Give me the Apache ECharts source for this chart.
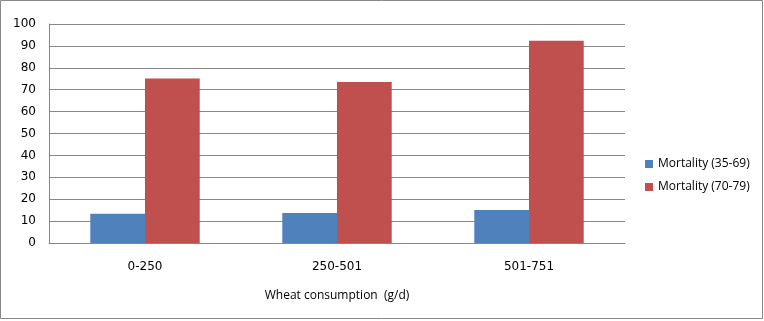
<!DOCTYPE html>
<html><head><meta charset="utf-8">
<script src="https://cdn.jsdelivr.net/npm/echarts@6/dist/echarts.min.js"></script>
<style>html,body{margin:0;padding:0;background:#fff}#c{width:764px;height:321px}</style>
</head><body><div id="c"></div>
<script>
var categories = ['0-250', '250-501', '501-751'];
var mortality3569 = [13.3, 13.7, 15.1];
var mortality7079 = [75.1, 73.5, 92.3];
var seriesNames = ['Mortality (35-69)', 'Mortality (70-79)'];
var xAxisTitle = 'Wheat consumption  (g/d)';

var chart = echarts.init(document.getElementById('c'));
var font = 'DejaVu Sans';
chart.setOption({
  animation: false,
  graphic: [{type:'rect', shape:{x:0.5,y:0.5,width:762,height:318}, style:{fill:'none', stroke:'#888', lineWidth:1}, silent:true}],
  grid: {left: 49, top: 24, right: 139, bottom: 78, containLabel: false},
  legend: {
    orient: 'vertical', left: 640, top: 153, itemWidth: 8, itemHeight: 8, itemGap: 11,
    icon: 'rect',
    textStyle: {fontFamily: 'Open Sans', fontSize: 12, color: '#000'},
    data: seriesNames
  },
  xAxis: {
    type: 'category', data: categories,
    axisLine: {lineStyle: {color: '#868686'}},
    axisTick: {show: false},
    axisLabel: {fontFamily: font, fontSize: 12, color: '#000', margin: 18},
    name: xAxisTitle, nameLocation: 'middle', nameGap: 47,
    nameTextStyle: {fontFamily: 'Open Sans', fontSize: 12, color: '#000'}
  },
  yAxis: {
    type: 'value', min: 0, max: 100, interval: 10,
    axisLine: {show: true, lineStyle: {color: '#868686'}},
    axisTick: {show: false},
    splitLine: {lineStyle: {color: '#868686'}},
    axisLabel: {fontFamily: font, fontSize: 12, color: '#000', margin: 13}
  },
  series: [
    {name: seriesNames[0], type: 'bar', data: mortality3569, barGap: '0%', barCategoryGap: '43%', itemStyle: {color: '#4f81bd'}},
    {name: seriesNames[1], type: 'bar', data: mortality7079, itemStyle: {color: '#c0504d'}}
  ]
});
</script></body></html>
